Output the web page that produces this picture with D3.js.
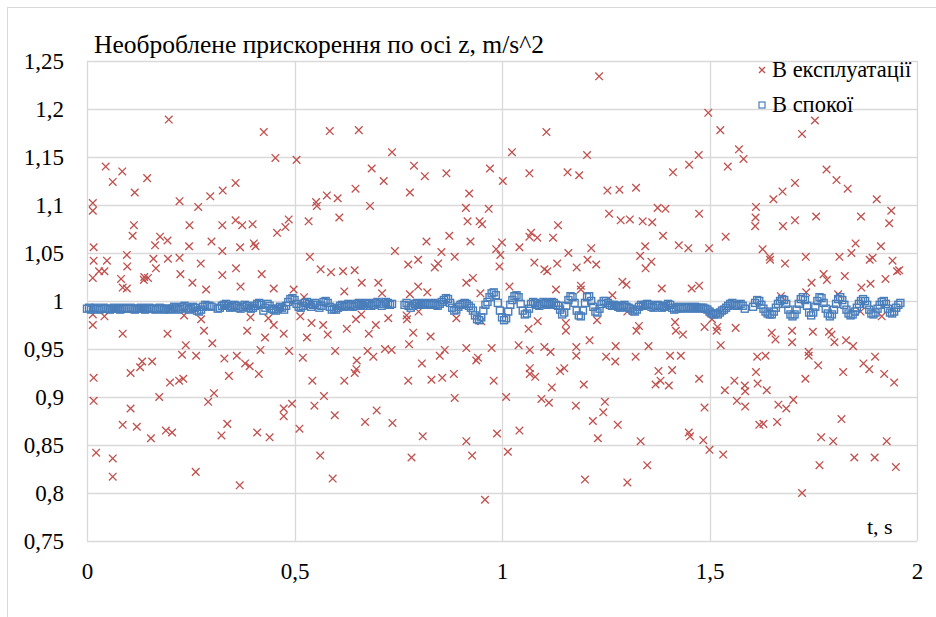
<!DOCTYPE html>
<html>
<head>
<meta charset="utf-8">
<script src="https://cdn.jsdelivr.net/npm/d3@7"></script>
<style>
body { margin: 0; background: #fff; }
svg text { fill: #000; }
</style>
</head>
<body>
<svg id="chart" width="936" height="617"></svg>
<script>
// acceleration along z, "in operation" (red crosses): [t, a]
const workingPoints = [
[0.197,1.189],[0.426,1.176],[0.585,1.177],[0.655,1.178],[0.454,1.149],[0.505,1.147],[0.735,1.155],[0.045,1.140],[0.085,1.135],[0.062,1.124],
[0.145,1.128],[0.115,1.113],[0.358,1.123],[0.327,1.115],[0.297,1.109],[0.223,1.104],[0.268,1.098],[0.014,1.102],[0.014,1.094],[0.686,1.138],
[0.715,1.125],[0.788,1.141],[0.814,1.130],[0.866,1.133],[0.971,1.138],[1.002,1.125],[0.778,1.113],[0.921,1.112],[0.647,1.117],[0.578,1.110],
[0.604,1.107],[0.552,1.103],[0.554,1.099],[0.682,1.099],[0.608,1.087],[0.913,1.097],[0.968,1.096],[0.917,1.083],[0.946,1.083],[0.952,1.080],
[0.534,1.083],[0.113,1.079],[0.110,1.068],[0.247,1.079],[0.326,1.079],[0.358,1.084],[0.374,1.079],[0.399,1.080],[0.486,1.085],[0.478,1.077],
[0.458,1.071],[0.176,1.067],[0.194,1.063],[0.164,1.058],[0.246,1.057],[0.300,1.062],[0.402,1.060],[0.406,1.057],[0.369,1.056],[0.016,1.056],
[0.326,1.052],[0.818,1.062],[0.873,1.068],[0.924,1.062],[1.000,1.061],[0.986,1.054],[0.996,1.048],[0.742,1.052],[0.854,1.051],[0.886,1.046],
[0.798,1.043],[0.774,1.038],[0.846,1.039],[0.838,1.035],[0.994,1.036],[0.537,1.046],[0.563,1.033],[0.588,1.030],[0.617,1.031],[0.645,1.032],
[0.096,1.048],[0.097,1.036],[0.048,1.042],[0.016,1.042],[0.160,1.044],[0.195,1.044],[0.223,1.045],[0.274,1.039],[0.166,1.034],[0.042,1.031],
[0.029,1.031],[0.014,1.024],[0.082,1.023],[0.138,1.025],[0.147,1.024],[0.137,1.022],[0.225,1.028],[0.326,1.027],[0.359,1.034],[0.421,1.028],
[0.086,1.014],[0.096,1.013],[0.254,1.019],[0.370,1.015],[0.287,1.012],[0.450,1.013],[0.662,1.019],[0.702,1.019],[0.914,1.019],[0.930,1.024],
[0.620,1.010],[0.498,1.012],[0.798,1.015],[0.820,1.009],[0.778,1.007],[0.711,1.008],[0.948,1.008],
[1.234,1.234],[1.497,1.196],[1.526,1.178],[1.107,1.176],[1.723,1.174],[1.754,1.188],[1.024,1.155],[1.205,1.152],[1.571,1.158],[1.582,1.148],
[1.474,1.152],[1.451,1.142],[1.412,1.134],[1.544,1.140],[1.066,1.133],[1.158,1.134],[1.186,1.131],[1.254,1.115],[1.283,1.116],[1.323,1.118],
[1.782,1.137],[1.806,1.126],[1.833,1.117],[1.706,1.123],[1.676,1.114],[1.654,1.106],[1.903,1.106],[1.612,1.098],[1.611,1.087],[1.610,1.078],
[1.375,1.097],[1.394,1.096],[1.475,1.091],[1.258,1.091],[1.286,1.084],[1.308,1.085],[1.339,1.083],[1.362,1.082],[1.938,1.094],[1.933,1.081],
[1.865,1.088],[1.757,1.088],[1.706,1.084],[1.677,1.078],[1.135,1.079],[1.070,1.071],[1.066,1.067],[1.085,1.066],[1.123,1.066],[1.388,1.068],
[1.539,1.067],[1.042,1.056],[1.215,1.055],[1.160,1.050],[1.345,1.057],[1.426,1.058],[1.449,1.055],[1.499,1.055],[1.628,1.054],[1.852,1.060],
[1.913,1.057],[1.842,1.050],[1.813,1.046],[1.732,1.046],[1.645,1.046],[1.646,1.043],[1.333,1.047],[1.206,1.043],[1.227,1.038],[1.078,1.040],
[1.133,1.039],[1.102,1.033],[1.109,1.031],[1.180,1.035],[1.346,1.034],[1.360,1.041],[1.682,1.039],[1.886,1.043],[1.893,1.045],[1.941,1.042],
[1.952,1.031],[1.957,1.032],[1.775,1.028],[1.783,1.022],[1.826,1.026],[1.924,1.023],[1.746,1.019],[1.866,1.014],[1.888,1.018],[1.018,1.015],
[1.130,1.012],[1.190,1.016],[1.190,1.012],[1.290,1.020],[1.300,1.017],[1.385,1.013],[1.457,1.013],[1.475,1.016],[1.266,1.006],[1.733,1.009],
[1.810,1.007],
[0.014,0.986],[0.014,0.975],[0.042,0.984],[0.086,0.966],[0.194,0.966],[0.234,0.985],[0.275,0.981],[0.282,0.969],[0.302,0.956],[0.238,0.954],
[0.229,0.944],[0.263,0.943],[0.386,0.969],[0.394,0.983],[0.437,0.982],[0.450,0.975],[0.429,0.962],[0.474,0.966],[0.418,0.949],[0.487,0.948],
[0.331,0.940],[0.361,0.943],[0.381,0.935],[0.392,0.932],[0.414,0.924],[0.342,0.922],[0.133,0.937],[0.157,0.937],[0.128,0.931],[0.105,0.925],
[0.016,0.920],[0.200,0.915],[0.222,0.917],[0.232,0.919],[0.016,0.896],[0.174,0.900],[0.292,0.895],[0.306,0.904],[0.105,0.888],[0.086,0.871],
[0.120,0.869],[0.154,0.857],[0.190,0.865],[0.205,0.863],[0.324,0.860],[0.338,0.872],[0.410,0.863],[0.440,0.858],[0.474,0.888],[0.474,0.880],
[0.494,0.893],[0.512,0.867],[0.022,0.842],[0.062,0.836],[0.062,0.817],[0.262,0.822],[0.368,0.808],[0.514,0.984],[0.541,0.977],[0.569,0.975],
[0.530,0.962],[0.580,0.965],[0.626,0.971],[0.648,0.981],[0.661,0.986],[0.679,0.966],[0.696,0.975],[0.726,0.982],[0.598,0.948],[0.520,0.941],
[0.676,0.948],[0.690,0.942],[0.718,0.950],[0.734,0.949],[0.650,0.938],[0.649,0.929],[0.645,0.925],[0.543,0.917],[0.620,0.917],[0.571,0.901],
[0.548,0.891],[0.597,0.881],[0.698,0.886],[0.670,0.874],[0.736,0.873],[0.562,0.839],[0.592,0.815],[0.771,0.981],[0.770,0.985],[0.786,0.967],
[0.776,0.955],[0.799,0.989],[0.828,0.963],[0.890,0.982],[0.807,0.935],[0.850,0.943],[0.862,0.949],[0.914,0.951],[0.938,0.938],[0.942,0.941],
[0.975,0.951],[0.774,0.917],[0.830,0.918],[0.856,0.920],[0.884,0.924],[0.980,0.917],[0.886,0.899],[0.809,0.859],[0.914,0.854],[0.988,0.862],
[0.782,0.837],[0.928,0.839],[0.959,0.793],[0.950,0.979],[0.523,1.004],
[1.010,0.900],[1.014,0.843],[1.042,0.865],[1.064,0.971],[1.086,0.979],[1.067,0.949],[1.040,0.954],[1.102,0.952],[1.117,0.947],[1.067,0.930],
[1.067,0.924],[1.080,0.921],[1.140,0.927],[1.150,0.930],[1.120,0.910],[1.095,0.898],[1.113,0.894],[1.154,0.977],[1.154,0.969],[1.179,0.952],
[1.179,0.943],[1.178,0.891],[1.197,0.913],[1.211,0.959],[1.229,0.980],[1.219,0.875],[1.244,0.884],[1.248,0.895],[1.231,0.857],[1.200,0.814],
[1.251,0.942],[1.273,0.937],[1.274,0.953],[1.302,0.989],[1.279,0.871],[1.302,0.811],[1.322,0.942],[1.324,0.969],[1.330,0.974],[1.353,0.953],
[1.350,0.829],[1.334,0.854],[1.370,0.913],[1.377,0.927],[1.382,0.917],[1.402,0.912],[1.410,0.928],[1.405,0.943],[1.431,0.943],[1.417,0.978],
[1.419,0.969],[1.436,0.965],[1.475,0.919],[1.488,0.889],[1.450,0.863],[1.453,0.859],[1.485,0.855],[1.500,0.845],[1.533,0.840],[1.488,0.973],
[1.506,0.981],[1.517,0.969],[1.519,0.973],[1.527,0.954],[1.563,0.972],[1.537,0.907],[1.560,0.917],[1.566,0.896],[1.585,0.912],[1.586,0.906],
[1.586,0.890],[1.615,0.942],[1.635,0.943],[1.612,0.926],[1.616,0.914],[1.638,0.907],[1.620,0.871],[1.630,0.872],[1.663,0.874],[1.666,0.892],
[1.685,0.888],[1.702,0.897],[1.650,0.967],[1.659,0.960],[1.699,0.969],[1.699,0.957],[1.723,0.800],[1.731,0.919],[1.739,0.947],[1.739,0.943],
[1.749,0.968],[1.762,0.933],[1.769,0.858],[1.765,0.829],[1.788,0.968],[1.794,0.965],[1.801,0.957],[1.798,0.854],[1.818,0.877],[1.822,0.926],
[1.829,0.959],[1.846,0.953],[1.849,0.837],[1.871,0.935],[1.885,0.929],[1.899,0.942],[1.898,0.837],[1.915,0.984],[1.921,0.924],[1.927,0.854],
[1.945,0.915],[1.949,0.827],[1.864,0.989],[1.502,0.988],[1.672,1.005]
];

// "at rest" (blue squares), sampled every restStep seconds from t = 0; null = no sample
const restStep = 0.005;
const restValues = [
0.992,0.993,0.991,0.992,0.993,0.992,0.991,0.992,0.993,0.992,0.992,0.991,0.992,0.993,0.992,0.992,0.991,0.993,0.992,0.992,
0.992,0.993,0.992,0.991,0.992,0.992,0.993,0.992,0.991,0.992,0.993,0.992,0.992,0.991,0.992,0.993,0.992,0.991,0.992,0.992,
0.991,0.992,0.994,0.993,0.991,0.992,0.994,0.995,0.993,0.991,0.992,0.994,0.993,0.990,0.989,0.991,0.994,0.996,0.995,0.995,
0.994,null,null,0.992,0.993,0.995,0.996,0.997,0.995,0.993,0.994,0.996,0.995,0.993,0.992,0.994,0.996,0.995,0.993,0.992,
0.993,0.995,0.997,0.998,0.996,0.990,0.993,0.997,0.995,0.992,0.991,0.990,0.992,0.994,0.993,0.991,0.995,0.999,1.002,1.003,
1.001,0.997,0.994,0.993,0.995,0.998,0.999,0.997,0.994,0.996,0.998,0.996,0.993,0.995,0.999,1.000,0.998,0.994,0.991,0.992,
0.991,0.993,0.995,0.996,0.994,0.995,0.997,0.996,0.994,0.995,0.997,0.998,0.996,0.995,0.997,0.998,0.997,0.995,0.996,0.998,
0.999,0.997,0.995,0.997,0.999,0.998,0.996,0.997,null,null,null,null,null,0.996,0.998,0.995,0.993,0.995,0.997,0.998,
0.997,0.996,0.997,0.998,0.997,0.996,0.997,0.998,0.996,0.995,0.997,0.999,1.001,1.003,1.002,0.998,0.993,0.990,0.991,0.994,
0.996,0.997,0.998,0.997,0.995,0.993,0.990,0.985,0.981,0.980,0.983,0.990,0.996,0.999,1.004,1.008,1.009,1.006,0.998,0.990,
0.983,0.980,0.982,0.989,0.996,1.001,1.005,1.006,1.004,0.997,0.990,0.986,0.987,0.992,0.997,0.999,0.998,0.996,0.995,0.997,
0.999,0.998,0.996,0.997,0.999,0.998,0.996,0.995,0.991,0.986,0.988,0.995,1.001,1.005,1.004,0.998,0.990,0.985,0.984,0.990,
0.998,1.004,1.005,1.000,0.994,0.989,0.988,0.992,0.997,1.000,1.000,0.998,0.996,0.995,0.996,0.995,0.994,0.993,0.995,0.996,
0.994,0.993,0.992,0.990,0.989,0.991,0.994,0.996,0.995,0.996,0.997,0.996,0.994,0.993,0.995,0.996,0.995,0.993,0.994,0.995,
0.997,0.996,0.993,0.991,0.992,0.994,0.993,0.992,0.993,0.994,0.993,0.992,0.993,0.994,0.993,0.992,0.993,0.993,0.992,0.991,
0.989,0.987,0.986,0.987,0.986,0.988,0.990,0.991,0.993,0.995,0.997,0.998,0.996,0.995,0.996,0.997,0.995,0.992,null,null,
null,0.994,0.998,1.001,1.000,0.996,0.992,0.989,0.987,0.986,0.986,0.989,0.993,0.997,1.000,1.002,1.001,0.997,0.991,0.986,
0.984,0.986,0.991,0.997,1.002,1.004,1.001,0.995,0.988,0.985,0.988,0.994,1.000,1.004,1.003,0.998,0.992,0.987,0.984,0.986,
0.991,0.997,1.002,1.004,1.001,0.996,0.991,0.987,0.985,0.986,0.989,0.993,0.997,1.000,1.002,1.000,0.996,0.991,0.987,0.986,
0.988,0.992,0.996,0.999,1.000,0.997,0.992,0.988,0.987,0.989,0.993,0.996,0.998
];

const xTicks = [0, 0.5, 1, 1.5, 2];
const yTicks = [0.75, 0.8, 0.85, 0.9, 0.95, 1, 1.05, 1.1, 1.15, 1.2, 1.25];
const seriesNames = ["В експлуатації", "В спокої"];
const titleText = "Необроблене прискорення по осі z, m/s^2";
const xAxisLabel = "t, s";

const svg = d3.select("#chart");
const plotLeft = 87, plotRight = 917, plotTop = 61, plotBottom = 541;
const gridColor = "#d9d9d9";
const redColor = "#c0504d";
const blueColor = "#4a7ebb";
const font = '"Liberation Serif", "Times New Roman", serif';

const x = d3.scaleLinear().domain([0, 2]).range([plotLeft, plotRight]);
const y = d3.scaleLinear().domain([0.75, 1.25]).range([plotBottom, plotTop]);
const fmt = d => String(d).replace(".", ",");

// outer chart frame
svg.append("rect").attr("x", 7.5).attr("y", 7.5).attr("width", 960).attr("height", 640)
	.attr("fill", "none").attr("stroke", gridColor);

// grid
svg.append("g").selectAll("line").data(yTicks).enter().append("line")
	.attr("x1", plotLeft).attr("x2", plotRight)
	.attr("y1", d => Math.round(y(d)) + 0.5).attr("y2", d => Math.round(y(d)) + 0.5)
	.attr("stroke", gridColor).attr("stroke-width", 1.3);
svg.append("g").selectAll("line").data(xTicks).enter().append("line")
	.attr("y1", plotTop).attr("y2", plotBottom)
	.attr("x1", d => Math.round(x(d)) + 0.5).attr("x2", d => Math.round(x(d)) + 0.5)
	.attr("stroke", gridColor).attr("stroke-width", 1.3);

// axes (labels only)
let yAxis = svg.append("g").attr("transform", "translate(" + plotLeft + ",0)")
	.call(d3.axisLeft(y).tickValues(yTicks).tickFormat(fmt).tickSize(0).tickPadding(23));
yAxis.attr("font-family", font).attr("font-size", 23);
yAxis.select(".domain").remove();

let xAxis = svg.append("g").attr("transform", "translate(0," + plotBottom + ")")
	.call(d3.axisBottom(x).tickValues(xTicks).tickFormat(fmt).tickSize(0).tickPadding(22));
xAxis.attr("font-family", font).attr("font-size", 23);
xAxis.select(".domain").remove();

const crossPath = "M-3.8,-3.8L3.8,3.8M-3.8,3.8L3.8,-3.8";

// red series
svg.append("g").selectAll("path").data(workingPoints).enter().append("path")
	.attr("d", crossPath)
	.attr("transform", d => "translate(" + x(d[0]) + "," + y(d[1]) + ")")
	.attr("stroke", redColor).attr("stroke-width", 1.3).attr("fill", "none");

// blue series
let restPoints = restValues.map((v, i) => [i * restStep, v]).filter(d => d[1] !== null);
svg.append("g").selectAll("rect").data(restPoints).enter().append("rect")
	.attr("x", d => x(d[0]) - 3.5).attr("y", d => y(d[1]) - 3.5)
	.attr("width", 7).attr("height", 7)
	.attr("stroke", blueColor).attr("stroke-width", 1.4).attr("fill", "none");

// title and axis name
svg.append("text").attr("x", 94).attr("y", 53).text(titleText)
	.attr("font-family", font).attr("font-size", 25.5);
svg.append("text").attr("x", 867).attr("y", 534).text(xAxisLabel)
	.attr("font-family", font).attr("font-size", 22);

// legend
let legend = svg.append("g").attr("font-family", font).attr("font-size", 22.5);
legend.append("path").attr("d", "M-3,-3L3,3M-3,3L3,-3")
	.attr("transform", "translate(762,70)")
	.attr("stroke", redColor).attr("stroke-width", 1.3);
legend.append("rect").attr("x", 759).attr("y", 102).attr("width", 6).attr("height", 6)
	.attr("stroke", blueColor).attr("stroke-width", 1.2).attr("fill", "none");
legend.append("text").attr("x", 772).attr("y", 77).text(seriesNames[0]);
legend.append("text").attr("x", 772).attr("y", 112).text(seriesNames[1]);
</script>
</body>
</html>
